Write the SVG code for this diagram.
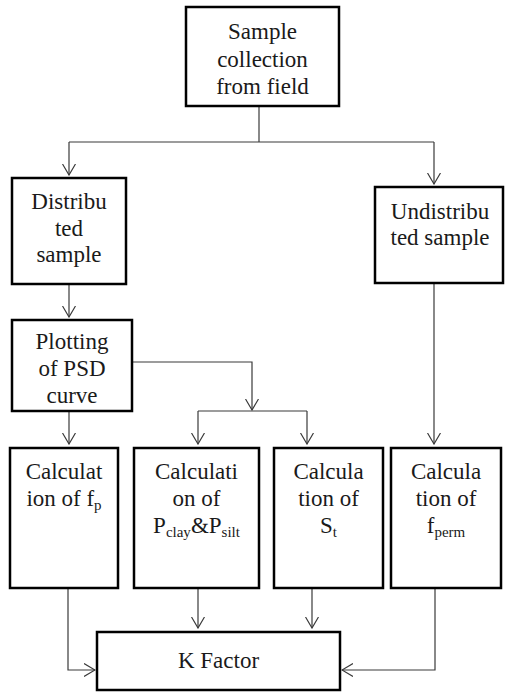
<svg xmlns="http://www.w3.org/2000/svg" width="505" height="693" viewBox="0 0 505 693">
<style>
.box{fill:#fff;stroke:#000;stroke-width:2.5}
.t{font-family:'Liberation Serif','Times New Roman',serif;font-size:23px;fill:#1a1a1a;text-anchor:middle}
.sub{font-size:15px}
.c{fill:none;stroke:#3a3a3a;stroke-width:1.2}
</style>
<defs>
<marker id="ah" viewBox="0 0 12 14" refX="11" refY="7" markerWidth="12" markerHeight="14" markerUnits="userSpaceOnUse" orient="auto">
<path d="M0,0.5 L11,7 L0,13.5" fill="none" stroke="#3a3a3a" stroke-width="1.2"/>
</marker>
</defs>
<rect width="505" height="693" fill="#fff"/>
<g id="connectors">
<path class="c" d="M259,106 V142"/>
<path class="c" d="M69,142 H434"/>
<path class="c" d="M69,142 V175" marker-end="url(#ah)"/>
<path class="c" d="M434,142 V184" marker-end="url(#ah)"/>
<path class="c" d="M69,284 V317" marker-end="url(#ah)"/>
<path class="c" d="M132,362 H252 V410" marker-end="url(#ah)"/>
<path class="c" d="M198,411 H307"/>
<path class="c" d="M198,411 V444" marker-end="url(#ah)"/>
<path class="c" d="M307,411 V444" marker-end="url(#ah)"/>
<path class="c" d="M69,411 V444" marker-end="url(#ah)"/>
<path class="c" d="M434,283 V444" marker-end="url(#ah)"/>
<path class="c" d="M68,588 V670 H95" marker-end="url(#ah)"/>
<path class="c" d="M198,588 V628" marker-end="url(#ah)"/>
<path class="c" d="M312,588 V628" marker-end="url(#ah)"/>
<path class="c" d="M435,588 V670 H342" marker-end="url(#ah)"/>
</g>
<g id="sample-collection">
<rect class="box" x="186" y="7" width="153" height="99"/>
<text class="t" x="262.5" y="39">Sample</text>
<text class="t" x="262.5" y="66.5">collection</text>
<text class="t" x="262.5" y="94">from field</text>
</g>
<g id="distributed">
<rect class="box" x="12" y="178" width="114" height="106"/>
<text class="t" x="69" y="209">Distribu</text>
<text class="t" x="69" y="236">ted</text>
<text class="t" x="69" y="262">sample</text>
</g>
<g id="undistributed">
<rect class="box" x="375" y="187" width="128" height="96"/>
<text class="t" x="440" y="219">Undistribu</text>
<text class="t" x="440" y="245">ted sample</text>
</g>
<g id="plotting">
<rect class="box" x="12" y="320" width="120" height="91"/>
<text class="t" x="72" y="349">Plotting</text>
<text class="t" x="72" y="376">of PSD</text>
<text class="t" x="72" y="403">curve</text>
</g>
<g id="calc-fp">
<rect class="box" x="10" y="448" width="108" height="140"/>
<text class="t" x="64" y="479">Calculat</text>
<text class="t" x="64" y="506">ion of f<tspan class="sub" dy="4">p</tspan></text>
</g>
<g id="calc-pclay">
<rect class="box" x="134" y="448" width="125" height="140"/>
<text class="t" x="196.5" y="479">Calculati</text>
<text class="t" x="196.5" y="506">on of</text>
<text class="t" x="196.5" y="533">P<tspan class="sub" dy="4">clay</tspan><tspan dy="-4">&amp;P</tspan><tspan class="sub" dy="4">silt</tspan></text>
</g>
<g id="calc-st">
<rect class="box" x="274" y="448" width="109" height="140"/>
<text class="t" x="328.5" y="479">Calcula</text>
<text class="t" x="328.5" y="506">tion of</text>
<text class="t" x="328.5" y="533">S<tspan class="sub" dy="4">t</tspan></text>
</g>
<g id="calc-fperm">
<rect class="box" x="391" y="448" width="110" height="140"/>
<text class="t" x="446" y="479">Calcula</text>
<text class="t" x="446" y="506">tion of</text>
<text class="t" x="446" y="533">f<tspan class="sub" dy="4">perm</tspan></text>
</g>
<g id="k-factor">
<rect class="box" x="97" y="632" width="243" height="58"/>
<text class="t" x="218.5" y="668">K Factor</text>
</g>
</svg>
